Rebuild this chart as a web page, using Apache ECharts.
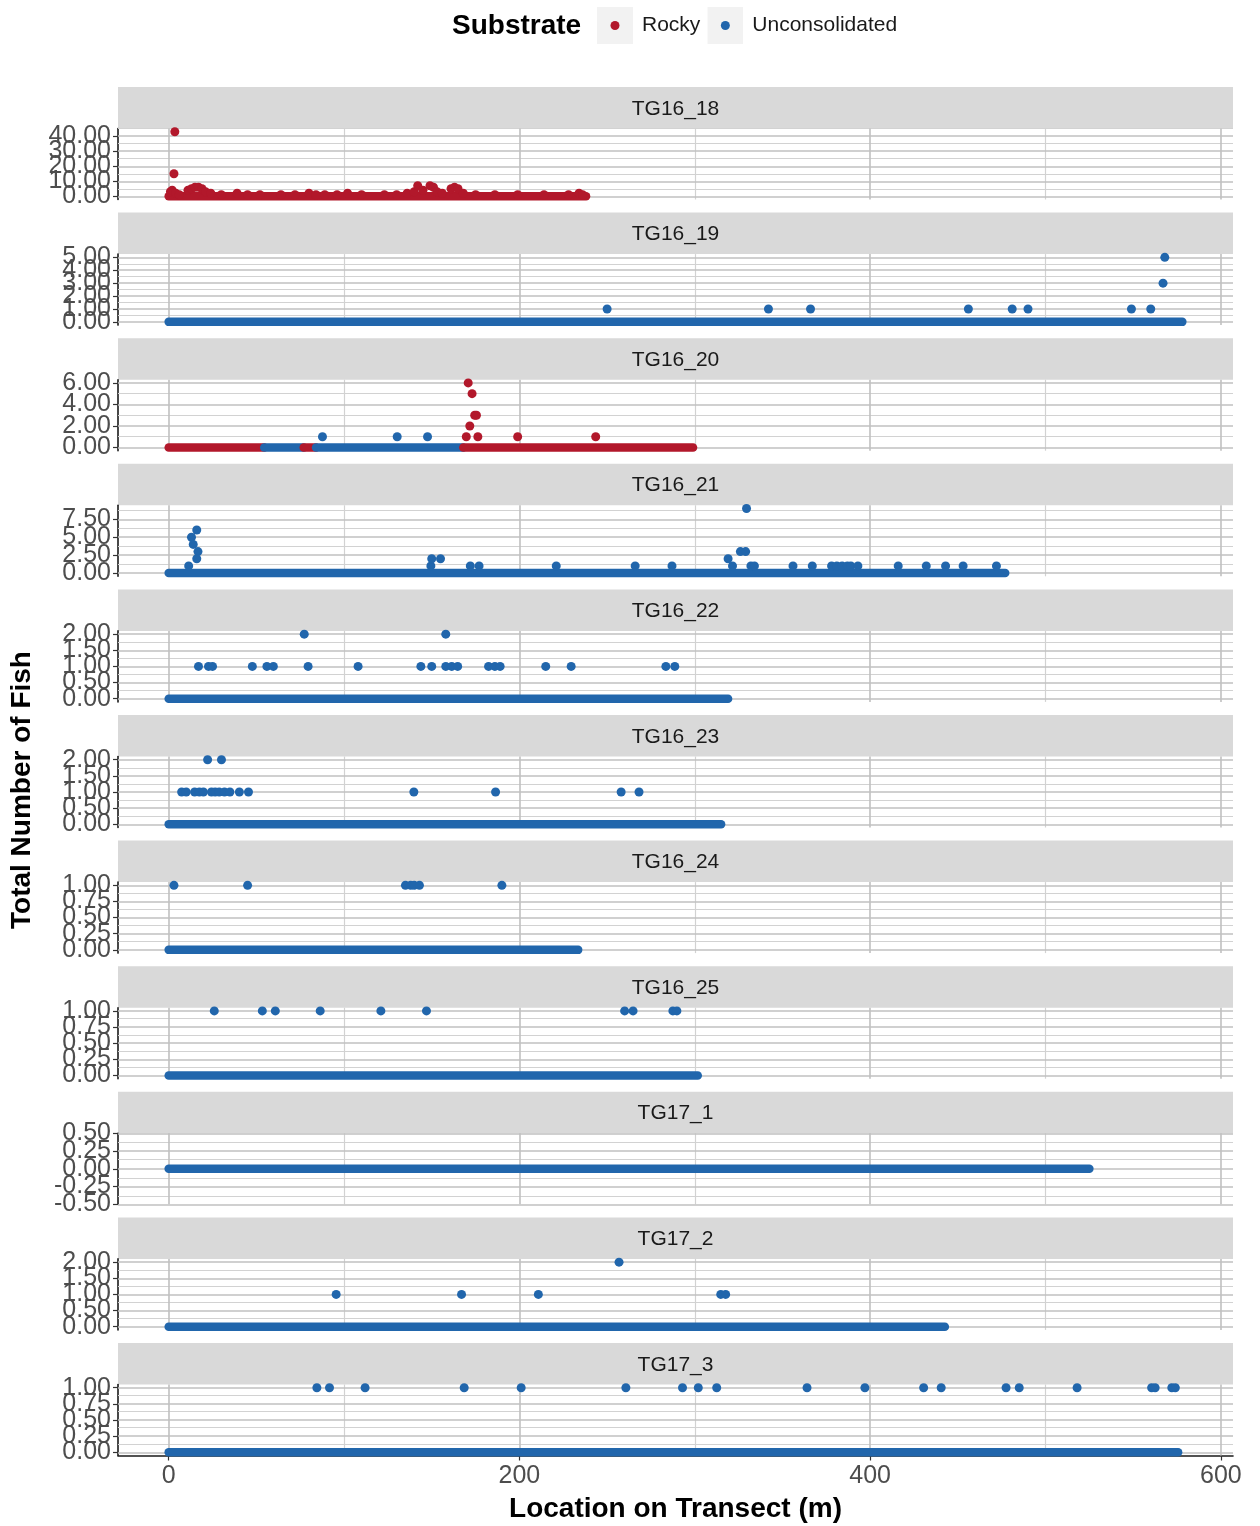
<!DOCTYPE html>
<html lang="en">
<head>
  <meta charset="UTF-8">
  <title>Total Number of Fish along transects</title>
  <script src="https://cdn.jsdelivr.net/npm/echarts@6/dist/echarts.min.js"></script>
  <style>
    html, body { margin: 0; padding: 0; background: #fff; }
    #main { width: 1260px; height: 1526px; }
  </style>
</head>
<body>
  <div id="main"></div>
  <script>
    // transects, one facet each
    var transects = ['TG16_18', 'TG16_19', 'TG16_20', 'TG16_21', 'TG16_22', 'TG16_23',
      'TG16_24', 'TG16_25', 'TG17_1', 'TG17_2', 'TG17_3'];
    var substrates = ['Rocky', 'Unconsolidated'];
    var substrateColors = ['#b2182b', '#2166ac'];

    // stretches of the transect with zero fish: [start m, end m, substrate index]
    var zeroRuns = [
      [[0, 238, 0]],
      [[0, 578, 1]],
      [[0, 54.5, 0], [54.5, 77, 1], [77, 84, 0], [84, 168, 1], [168, 299, 0]],
      [[0, 477, 1]],
      [[0, 319, 1]],
      [[0, 315, 1]],
      [[0, 233.5, 1]],
      [[0, 301.7, 1]],
      [[0, 525, 1]],
      [[0, 442.6, 1]],
      [[0, 575.6, 1]]
    ];

    // non-zero counts on rocky substrate: [location m, fish]
    var rockyCounts = [
      [[3.5, 43], [3, 15], [1, 3], [2, 4], [4, 2], [6, 1], [11, 4], [13, 5], [15, 6], [17, 6], [19, 5],
       [21, 3], [24, 2], [30, 1], [39, 2], [45, 1], [52, 1], [64, 1], [72, 1], [80, 2], [84, 1], [89, 1],
       [96, 1], [102, 2], [110, 1], [123, 1], [130, 1], [136, 2], [140, 3], [142, 7], [145, 4], [149, 7],
       [151, 6], [153, 3], [156, 2], [161, 5], [163, 6], [165, 5], [168, 2], [175, 1], [186, 1], [199, 1],
       [214, 1], [228, 1], [234, 2], [236, 1]],
      [],
      [[169.7, 1], [171.7, 2], [170.8, 6], [173, 5], [174.5, 3], [175.5, 3], [176.3, 1], [199, 1], [243.5, 1]],
      [], [], [], [], [], [], [], []
    ];

    // non-zero counts on unconsolidated substrate: [location m, fish]
    var unconsCounts = [
      [],
      [[250, 1], [342, 1], [366, 1], [456, 1], [481, 1], [490, 1], [549, 1], [560, 1], [567, 3], [568, 5]],
      [[87.7, 1], [130.3, 1], [147.6, 1]],
      [[11.4, 1], [13, 5], [14, 4], [16, 6], [16.7, 3], [16, 2], [149.5, 1], [150, 2], [155, 2], [172, 1],
       [177, 1], [221, 1], [266, 1], [287, 1], [319, 2], [321.5, 1], [326, 3], [329, 3], [329.5, 9], [332, 1],
       [334, 1], [356, 1], [367, 1], [378, 1], [381, 1], [384, 1], [387, 1], [389, 1], [393, 1], [416, 1],
       [432, 1], [443, 1], [453, 1], [472, 1]],
      [[17, 1], [22.7, 1], [25, 1], [47.7, 1], [56, 1], [59.7, 1], [79.5, 1], [77.3, 2], [108, 1], [143.8, 1],
       [150, 1], [158, 2], [158, 1], [161.4, 1], [164.8, 1], [182.4, 1], [186, 1], [189, 1], [215, 1],
       [229.5, 1], [283.5, 1], [288.6, 1]],
      [[7.4, 1], [10, 1], [14.8, 1], [17.5, 1], [19.8, 1], [22.2, 2], [24.4, 1], [26.5, 1], [28.8, 1],
       [30.1, 2], [31.8, 1], [34.9, 1], [40.3, 1], [45.5, 1], [139.8, 1], [186.4, 1], [258, 1], [268.2, 1]],
      [[3, 1], [45, 1], [135, 1], [138, 1], [140, 1], [143, 1], [190, 1]],
      [[26, 1], [53.4, 1], [60.8, 1], [86.4, 1], [121, 1], [147, 1], [260, 1], [264.8, 1], [287.5, 1], [289.8, 1]],
      [],
      [[95.5, 1], [167, 1], [210.8, 1], [256.8, 2], [314.8, 1], [317.6, 1]],
      [[84.5, 1], [91.7, 1], [112, 1], [168.5, 1], [201, 1], [260.7, 1], [293, 1], [302, 1], [312.5, 1],
       [364, 1], [397, 1], [430.5, 1], [440.5, 1], [477.5, 1], [485, 1], [518, 1], [560.5, 1], [562.5, 1],
       [572, 1], [574, 1]]
    ];

    // y tick spacing of each facet, x ticks shared
    var yTickSteps = [10, 1, 2, 2.5, 0.5, 0.5, 0.25, 0.25, 0.25, 0.5, 0.25];
    var xTicks = [0, 200, 400, 600];
    var xMinorTicks = [100, 300, 500];

    var font = '"Liberation Sans", Arial, sans-serif';
    var plotLeft = 118, plotRight = 1233;
    var firstTop = 87, stripH = 41.5, plotH = 71, panelStep = 125.6;

    var majorLine = { color: '#c0c0c0', width: 1.6, type: 'solid' };
    var minorLine = { color: '#d2d2d2', width: 1.2, type: 'solid' };
    var tickLabel = { fontSize: 25, color: '#4d4d4d', fontFamily: font };

    // x range like ggplot: data range plus 5% each side
    var xEnd = 0;
    zeroRuns.forEach(function (runs) {
      runs.forEach(function (r) { xEnd = Math.max(xEnd, r[1]); });
    });
    var xPad = xEnd * 0.05;

    function keyIcon(color) {
      var svg = "<svg xmlns='http://www.w3.org/2000/svg' width='36' height='37'>" +
        "<rect width='36' height='37' fill='#f2f2f2'/>" +
        "<circle cx='18' cy='18.5' r='4.5' fill='" + color + "'/></svg>";
      return 'image://data:image/svg+xml;charset=utf-8,' + encodeURIComponent(svg);
    }

    var grids = [], xAxes = [], yAxes = [], series = [], graphics = [];

    transects.forEach(function (name, i) {
      var stripTop = firstTop + i * panelStep;
      var gridTop = stripTop + stripH;
      var last = i === transects.length - 1;

      // facet strip
      graphics.push({
        type: 'rect', silent: true, z: 0,
        shape: { x: plotLeft, y: stripTop, width: plotRight - plotLeft, height: stripH },
        style: { fill: '#d9d9d9' }
      });
      graphics.push({
        type: 'text', silent: true, z: 1,
        x: (plotLeft + plotRight) / 2, y: stripTop + stripH / 2 + 1,
        style: { text: name, fill: '#1a1a1a', font: '21px ' + font, textAlign: 'center', textVerticalAlign: 'middle' }
      });

      grids.push({ left: plotLeft, width: plotRight - plotLeft, top: gridTop, height: plotH, outerBoundsMode: 'none' });

      // free y scale
      var vals = [0];
      rockyCounts[i].concat(unconsCounts[i]).forEach(function (p) { vals.push(p[1]); });
      var hi = Math.max.apply(null, vals);
      var yMin = hi === 0 ? -0.5 : -0.05 * hi;
      var yMax = hi === 0 ? 0.5 : 1.05 * hi;
      var st = yTickSteps[i];
      var major = [], minor = [], k;
      for (k = Math.ceil(yMin / st - 1e-9); k * st <= yMax + 1e-9; k++) major.push(+(k * st).toFixed(4));
      for (k = Math.floor(yMin / st) - 1; (k + 0.5) * st <= yMax; k++) {
        var mv = (k + 0.5) * st;
        if (mv >= yMin) minor.push(+mv.toFixed(4));
      }

      xAxes.push({
        type: 'value', gridIndex: i, min: -xPad, max: xEnd + xPad,
        axisLine: { show: last, onZero: false, lineStyle: { color: '#1a1a1a', width: 1.6 } },
        axisTick: { show: last, customValues: xTicks, length: 5, lineStyle: { color: '#333', width: 1.2 } },
        axisLabel: Object.assign({
          show: last, customValues: xTicks, margin: 8,
          showMinLabel: true, showMaxLabel: true, hideOverlap: false
        }, tickLabel),
        splitLine: { show: false }
      });

      // data axis: line + ticks, its index is the one the series use
      var dataAxisIndex = yAxes.length;
      yAxes.push({
        type: 'value', gridIndex: i, min: yMin, max: yMax, position: 'left',
        axisLine: { show: true, onZero: false, lineStyle: { color: '#1a1a1a', width: 1.6 } },
        axisTick: { show: true, customValues: major, length: 5, lineStyle: { color: '#333', width: 1.2 } },
        axisLabel: { show: false },
        splitLine: { show: false }
      });
      // one label-only axis per tick, so overlapping labels all stay (as in the original)
      major.forEach(function (v) {
        yAxes.push({
          type: 'value', gridIndex: i, min: yMin, max: yMax, position: 'left', offset: 0,
          axisLine: { show: false, onZero: false }, axisTick: { show: false }, splitLine: { show: false },
          axisLabel: Object.assign({
            customValues: [v], margin: 7, showMinLabel: true, showMaxLabel: true, hideOverlap: false,
            formatter: function (t) { return Number(t).toFixed(2); }
          }, tickLabel)
        });
      });

      var gridLines = [];
      minor.forEach(function (v) { gridLines.push({ yAxis: v, lineStyle: minorLine }); });
      xMinorTicks.forEach(function (v) { gridLines.push({ xAxis: v, lineStyle: minorLine }); });
      major.forEach(function (v) { gridLines.push({ yAxis: v, lineStyle: majorLine }); });
      xTicks.forEach(function (v) { gridLines.push({ xAxis: v, lineStyle: majorLine }); });

      zeroRuns[i].forEach(function (r, j) {
        var s = {
          type: 'line', name: substrates[r[2]], xAxisIndex: i, yAxisIndex: dataAxisIndex,
          data: [[r[0], 0], [r[1], 0]],
          symbol: 'none', silent: true, animation: false, z: 3,
          lineStyle: { color: substrateColors[r[2]], width: 8.5, cap: 'round' }
        };
        if (j === 0) {
          s.markLine = {
            silent: true, symbol: 'none', animation: false, z: 1,
            label: { show: false }, emphasis: { disabled: true },
            data: gridLines
          };
        }
        series.push(s);
      });

      [rockyCounts[i], unconsCounts[i]].forEach(function (pts, j) {
        if (!pts.length) return;
        series.push({
          type: 'scatter', name: substrates[j], xAxisIndex: i, yAxisIndex: dataAxisIndex,
          data: pts, symbolSize: 9, silent: true, animation: false, z: 4,
          itemStyle: { color: substrateColors[j], opacity: 1 }
        });
      });
    });

    // axis titles
    graphics.push({
      type: 'text', silent: true, x: 22, y: 790, rotation: Math.PI / 2,
      style: { text: 'Total Number of Fish', fill: '#000', font: 'bold 28px ' + font, textAlign: 'center', textVerticalAlign: 'middle' }
    });
    graphics.push({
      type: 'text', silent: true, x: (plotLeft + plotRight) / 2, y: 1509,
      style: { text: 'Location on Transect (m)', fill: '#000', font: 'bold 28px ' + font, textAlign: 'center', textVerticalAlign: 'middle' }
    });

    var myChart = echarts.init(document.getElementById('main'));
    myChart.setOption({
      backgroundColor: '#fff',
      animation: false,
      title: {
        text: 'Substrate', left: 452, top: 12, padding: 0,
        textStyle: { fontSize: 28, fontWeight: 'bold', color: '#000', fontFamily: font }
      },
      legend: {
        left: 597, top: 7, padding: 0, itemWidth: 36, itemHeight: 37, itemGap: 7,
        selectedMode: false,
        data: substrates.map(function (s, j) { return { name: s, icon: keyIcon(substrateColors[j]) }; }),
        textStyle: { fontSize: 21, color: '#1a1a1a', fontFamily: font, padding: [0, 0, 0, 4] }
      },
      grid: grids,
      xAxis: xAxes,
      yAxis: yAxes,
      series: series,
      graphic: graphics
    });
  </script>
</body>
</html>
